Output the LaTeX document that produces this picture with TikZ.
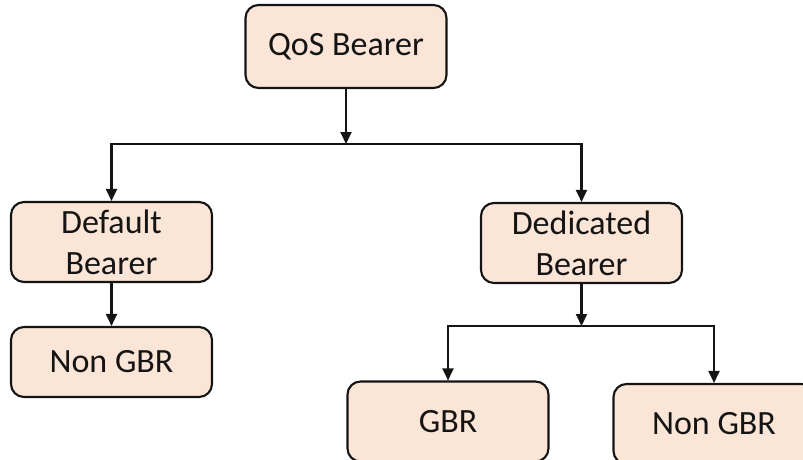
\documentclass[tikz,border=0pt]{standalone}
\usepackage{fontspec}
\setmainfont{Carlito}
\usetikzlibrary{arrows.meta}
\definecolor{boxfill}{HTML}{FBE5D6}
\definecolor{inkc}{HTML}{141414}
\tikzset{
  box/.style={draw=inkc, line width=2.1pt, fill=boxfill, rounded corners=13pt,
    minimum width=201pt, inner sep=0pt, align=center, text=inkc,
    font=\fontsize{34}{41}\selectfont},
  arr/.style={draw=inkc, line width=2.1pt, -{Triangle[length=12pt,width=11pt]}},
  ln/.style={draw=inkc, line width=2.1pt}
}
\begin{document}
\begin{tikzpicture}[x=1pt,y=-1pt]
\useasboundingbox (0,0) rectangle (803,460);
\clip (0,0) rectangle (803,460);
\node[box, minimum height=83pt] (qos) at (346,46.5) {QoS Bearer};
\node[box, minimum height=80pt] (def) at (111.5,242) {Default\\Bearer};
\node[box, minimum height=80pt] (ded) at (581.5,243) {Dedicated\\Bearer};
\node[box, minimum height=70pt] (ngl) at (111.5,362) {Non GBR};
\node[box, minimum height=80pt] (gbr) at (448,421.5) {GBR};
\node[box, minimum height=80pt] (ngr) at (714,424) {Non GBR};
\coordinate (j1) at (346,144);
\coordinate (j2) at (581.5,326);
\draw[arr] (qos.south) -- (j1);
\draw[arr] (j1) -| (def.north);
\draw[arr] (j1) -| (ded.north);
\draw[arr] (def.south) -- (ngl.north);
\draw[arr] (ded.south) -- (j2);
\draw[arr] (j2) -| (gbr.north);
\draw[arr] (j2) -| (ngr.north);
\end{tikzpicture}
\end{document}
